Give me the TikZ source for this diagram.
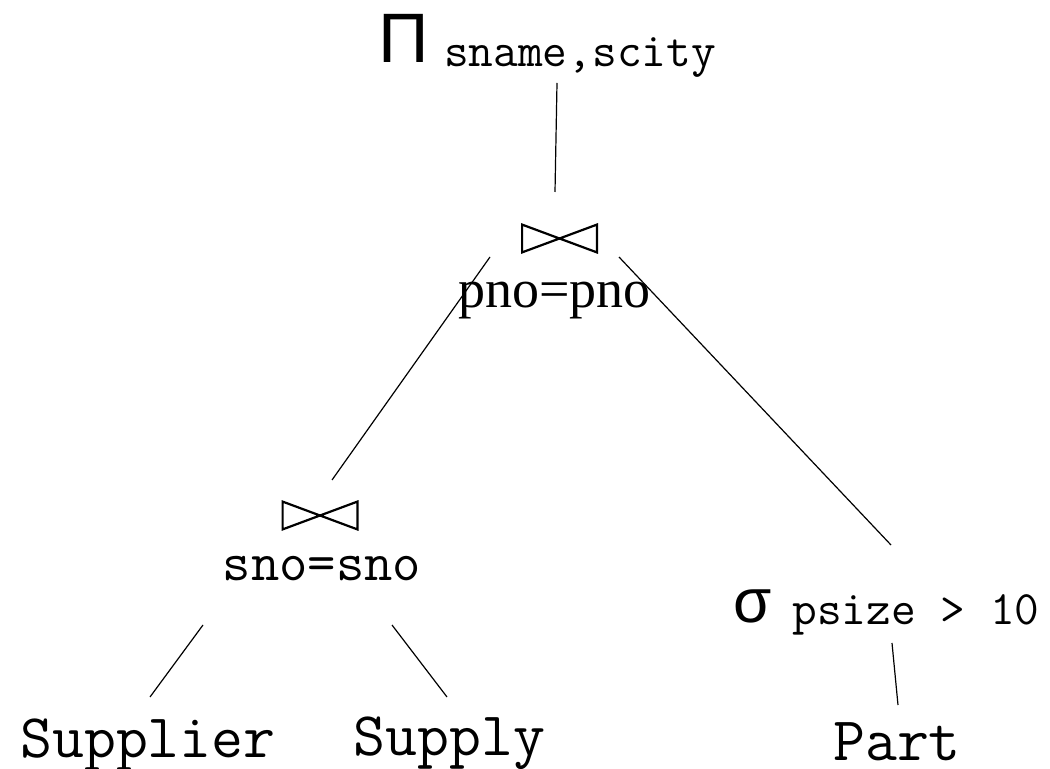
\documentclass[tikz,border=0pt]{standalone}
\usepackage{fontspec}
\setmainfont{Liberation Serif}
\setsansfont{Liberation Sans}

\tikzset{
  lbl/.style={inner sep=0pt, anchor=base, font=\ttfamily\fontsize{31}{34}\selectfont},
  sub/.style={inner sep=0pt, anchor=base, font=\ttfamily\fontsize{24}{27}\selectfont},
  op/.style={inner sep=0pt, anchor=base, font=\sffamily\fontsize{35}{40}\selectfont},
  cond/.style={inner sep=0pt, anchor=base, font=\rmfamily\fontsize{27}{30}\selectfont},
  joinbox/.style={inner sep=0pt, minimum width=37pt, minimum height=13.5pt},
  joinline/.style={line width=1.1pt, line join=miter},
  edge/.style={line width=0.6pt}
}
\newcommand{\joinmark}[1]{\draw[joinline] (#1.north west) -- (#1.south east) -- (#1.north east) -- (#1.south west) -- cycle;}

\begin{document}
\begin{tikzpicture}[x=0.5pt, y=-0.5pt]
  \useasboundingbox (0,0) rectangle (1050,769);

  % projection on top
  \node[op] (proj) at (404,63) {Π};
  \node[sub] (projattr) at (580,67) {sname,scity};

  % upper join
  \node[joinbox] (pjoin) at (559.5,238.5) {};
  \joinmark{pjoin}
  \node[cond] (pcond) at (554.5,308) {pno=pno};

  % lower join
  \node[joinbox] (sjoin) at (320,515.5) {};
  \joinmark{sjoin}
  \node[lbl, font=\ttfamily\fontsize{27.5}{30}\selectfont] (scond) at (322,581) {sno=sno};

  % selection
  \node[op, font=\sffamily\fontsize{31}{36}\selectfont] (sel) at (753,623) {σ};
  \node[sub] (selcond) at (916,625) {psize > 10};

  % relations
  \node[lbl] (supplier) at (148,757) {Supplier};
  \node[lbl] (supply) at (449.5,755) {Supply};
  \node[lbl] (part) at (897,761) {Part};

  % line ends
  \coordinate (proj-down) at (557,83);
  \coordinate (pjoin-up) at (555,192);
  \coordinate (pjoin-left) at (490,257);
  \coordinate (pjoin-right) at (619,257);
  \coordinate (sjoin-up) at (332,480);
  \coordinate (sel-up) at (891,545);
  \coordinate (sjoin-left) at (203,625);
  \coordinate (sjoin-right) at (392,625);
  \coordinate (supplier-up) at (150,697);
  \coordinate (supply-up) at (447,697);
  \coordinate (sel-down) at (892,643);
  \coordinate (part-up) at (898,705);

  \draw[edge] (proj-down) -- (pjoin-up);
  \draw[edge] (pjoin-left) -- (sjoin-up);
  \draw[edge] (pjoin-right) -- (sel-up);
  \draw[edge] (sjoin-left) -- (supplier-up);
  \draw[edge] (sjoin-right) -- (supply-up);
  \draw[edge] (sel-down) -- (part-up);
\end{tikzpicture}
\end{document}
